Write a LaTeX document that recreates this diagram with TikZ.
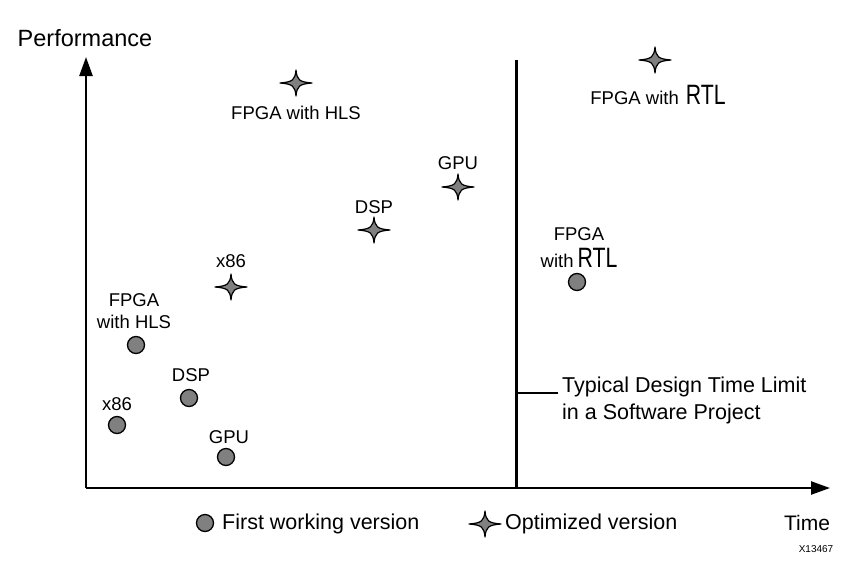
\documentclass[tikz,border=0pt]{standalone}
\usepackage{fontspec}
\usepackage{graphicx}
\setmainfont{Liberation Sans}
\usetikzlibrary{arrows.meta}
\definecolor{markgray}{RGB}{128,128,128}
\newcommand{\bigrtl}{\scalebox{0.76}[1]{\fontsize{28}{22}\selectfont RTL}}
\tikzset{
  axis/.style={line width=2.4pt,-{Triangle[length=19pt,width=13pt]}},
  firstver/.style={circle,draw=black,fill=markgray,line width=1.3pt,minimum size=17pt,inner sep=0pt},
  lbl/.style={inner sep=0pt,font=\fontsize{18.5}{22}\selectfont,align=center},
  big/.style={inner sep=0pt,font=\fontsize{21.5}{27}\selectfont},
  optstar/.pic={
    \draw[line width=1.2pt,fill=markgray,line join=round]
      (16,0) .. controls (3,-1.1) and (1.1,-3) .. (0,-13)
      .. controls (-1.1,-3) and (-3,-1.1) .. (-16,0)
      .. controls (-3,1.1) and (-1.1,3) .. (0,13)
      .. controls (1.1,3) and (3,1.1) .. cycle;
  }
}
\begin{document}
\begin{tikzpicture}[x=1pt,y=-1pt]
\useasboundingbox (0,0) rectangle (864,565);
% axes
\coordinate (origin) at (86,488);
\coordinate (ytop) at (86,57);
\coordinate (xend) at (830,488);
\draw[axis] (origin) -- (ytop);
\draw[axis] (origin) -- (xend);
\node[big,font=\fontsize{23.5}{27}\selectfont] (perf) at (85,38) {Performance};
\node[big,font=\fontsize{21}{27}\selectfont] (time) at (807,523) {Time};
\node[inner sep=0pt,font=\fontsize{10}{12}\selectfont] (code) at (816,549) {X13467};
% design time limit
\coordinate (limtop) at (516,60);
\coordinate (limbot) at (516,488);
\draw[line width=3pt] (limtop) -- (limbot);
\coordinate (tick) at (516,393);
\coordinate (tickend) at (558,393);
\draw[line width=2.8pt] (tick) -- (tickend);
\node[big,anchor=west,align=left] (limtxt) at (562,400) {Typical Design Time Limit\\in a Software Project};
% first working versions
\node[firstver] (c86) at (117,425) {};
\node[lbl] (c86l) at (117,404) {x86};
\node[firstver] (cdsp) at (189,398) {};
\node[lbl] (cdspl) at (191,375) {DSP};
\node[firstver] (cgpu) at (226,457) {};
\node[lbl] (cgpul) at (229,437) {GPU};
\node[firstver] (chls) at (136,345) {};
\node[lbl] (chlsl) at (134,311) {FPGA\\with HLS};
\node[firstver] (crtl) at (577,282) {};
\node[lbl] (crtla) at (579,234) {FPGA};
\node[lbl,anchor=base] (crtlb) at (579,267) {with\hspace{4pt}\bigrtl};
% optimized versions
\coordinate (s86) at (231,287); \pic at (s86) {optstar};
\node[lbl] (s86l) at (231,261) {x86};
\coordinate (sdsp) at (374,230); \pic at (sdsp) {optstar};
\node[lbl] (sdspl) at (374,207) {DSP};
\coordinate (sgpu) at (458,187); \pic at (sgpu) {optstar};
\node[lbl] (sgpul) at (458,163) {GPU};
\coordinate (shls) at (296,83); \pic at (shls) {optstar};
\node[lbl] (shlsl) at (296,113) {FPGA with HLS};
\coordinate (srtl) at (655,60); \pic at (srtl) {optstar};
\node[lbl,anchor=base] (srtll) at (658,104) {FPGA with\hspace{7pt}\bigrtl};
% legend
\node[firstver] (legc) at (205,523) {};
\node[big,anchor=west] (legct) at (222,524) {First working version};
\coordinate (legs) at (485,524); \pic at (legs) {optstar};
\node[big,anchor=west] (legst) at (505,524) {Optimized version};
\end{tikzpicture}
\end{document}
